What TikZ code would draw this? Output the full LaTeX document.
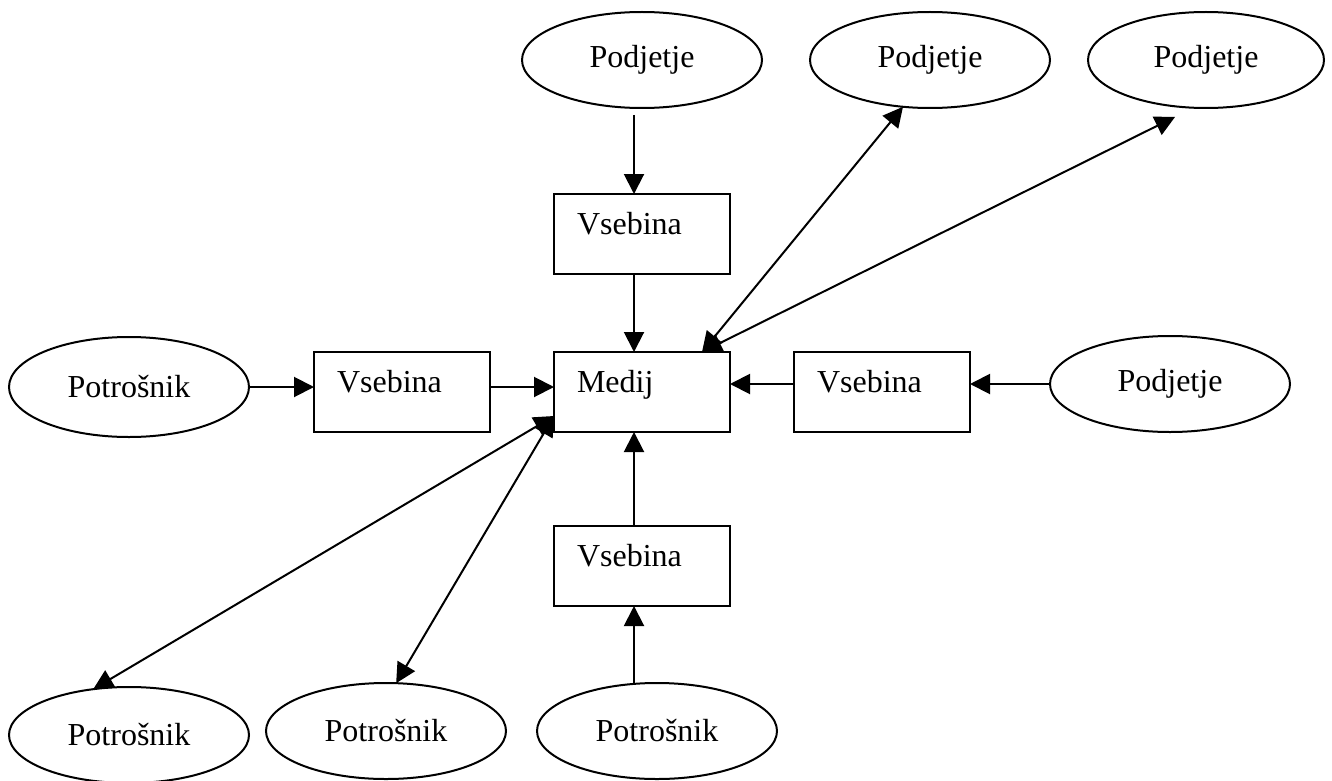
\documentclass[tikz,border=0pt]{standalone}
\usepackage{fontspec}
\setmainfont{Liberation Serif}
\usetikzlibrary{arrows.meta,shapes.geometric}
\begin{document}
\begin{tikzpicture}[x=0.5pt,y=-0.5pt,
  font=\fontsize{16}{19}\selectfont,
  line width=1pt,
  oval/.style={draw,ellipse,inner sep=0pt,outer sep=0pt,minimum width=120pt,minimum height=48pt},
  card/.style={draw,rectangle,inner sep=0pt,outer sep=0pt,minimum width=88pt,minimum height=40pt},
  cardtext/.style={anchor=base west,inner sep=0pt},
  tip/.tip={Triangle[length=10pt,width=10pt]},
  arr/.style={-tip},
  biarr/.style={tip-tip}
]
\useasboundingbox (0,0) rectangle (1332,781);

% companies (top and right)
\node[oval] (pt1) at (642,60) {Podjetje};
\node[oval] (pt2) at (930,60) {Podjetje};
\node[oval,minimum width=118pt] (pt3) at (1206,60) {Podjetje};
\node[oval] (pr) at (1170,384) {Podjetje};

% consumers (left and bottom)
\node[oval,minimum height=50pt] (cl) at (129,387) {Potrošnik};
\node[oval] (cb1) at (129,735) {Potrošnik};
\node[oval] (cb2) at (386,731) {Potrošnik};
\node[oval] (cb3) at (657,731) {Potrošnik};

% medium and content boxes
\node[card] (med) at (642,392) {};
\node[card] (vt) at (642,234) {};
\node[card] (vl) at (402,392) {};
\node[card] (vr) at (882,392) {};
\node[card] (vb) at (642,566) {};

\node[cardtext] (medtxt) at ([shift={(22,40)}]med.north west) {Medij};
\node[cardtext] (vttxt) at ([shift={(22,40)}]vt.north west) {Vsebina};
\node[cardtext] (vltxt) at ([shift={(22,40)}]vl.north west) {Vsebina};
\node[cardtext] (vrtxt) at ([shift={(22,40)}]vr.north west) {Vsebina};
\node[cardtext] (vbtxt) at ([shift={(22,40)}]vb.north west) {Vsebina};

% helper points
\coordinate (colx) at (634,0);
\coordinate (mtr) at ([shift={(60,0)}]med.north);
\coordinate (mbl) at ([shift={(0,24)}]med.west);
\coordinate (pt1out) at ([shift={(0,7)}]pt1.south);

% vertical flows
\draw[arr] (pt1out -| colx) -- (vt.north -| colx);
\draw[arr] (vt.south -| colx) -- (med.north -| colx);
\draw[arr] (cb3.north -| colx) -- (vb.south -| colx);
\draw[arr] (vb.north -| colx) -- (med.south -| colx);

% horizontal flows
\draw[arr] (cl.east) -- (vl.west |- cl.east);
\draw[arr] (vl.east |- cl.east) -- (med.west |- cl.east);
\draw[arr] (pr.west) -- (vr.east |- pr.west);
\draw[arr] (vr.west |- pr.west) -- (med.east |- pr.west);

% direct two-way links
\draw[biarr] (mtr) -- (pt2.240);
\draw[biarr] (mtr) -- ([shift={(-6,10)}]pt3.242);
\draw[biarr] (mbl) -- (cb1.128);
\draw[biarr] (mbl) -- (cb2.78);
\end{tikzpicture}
\end{document}
